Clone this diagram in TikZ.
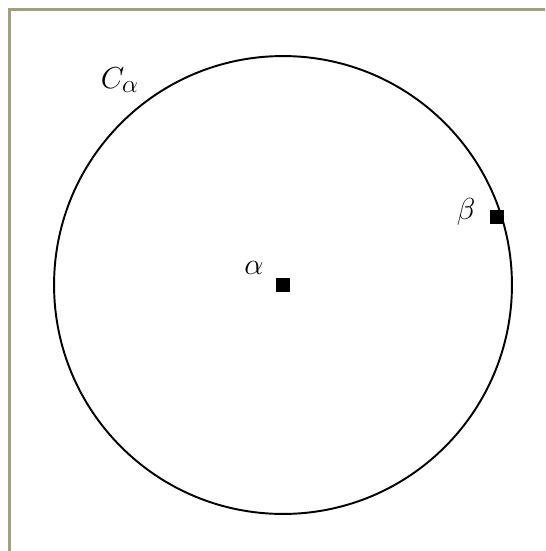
\documentclass[tikz,border=0pt]{standalone}
\usepackage{tikz}
\usetikzlibrary{positioning, calc}
\definecolor{framecol}{RGB}{160, 160, 128}
\definecolor{linecol}{RGB}{0, 0, 0}
\tikzset{
  pt/.style    = {fill=linecol, minimum size=0.28cm, inner sep=0pt},
  lbl/.style   = {font=\fontsize{19}{23}\selectfont, inner sep=1pt},
  orbit/.style = {draw=linecol, line width=1.1pt},
  frame/.style = {draw=framecol, line width=1.8pt},
}
\begin{document}
\begin{tikzpicture}[x=0.02cm, y=-0.02cm]
  \useasboundingbox (0,0) rectangle (545,551);

  %% ---------------- the frame ----------------
  \coordinate (fl) at (9.5,551);
  \coordinate (fc) at (9.5,9.5);
  \coordinate (fr) at (545,9.5);
  \draw[frame] (fl) -- (fc) -- (fr);

  %% ---------------- the circle ----------------
  \coordinate (ctr) at (283,285);
  \draw[orbit] (ctr) circle (4.58cm);

  %% ---------------- the two points ----------------
  \node[pt] (a) at (283,285) {};
  \node[pt] (b) at (497,217) {};

  \node[lbl] (alab) at (254,268) {$\alpha$};
  \node[lbl] (blab) at (466,212) {$\beta$};
  \node[lbl] (clab) at (120,80)  {$C_\alpha$};
\end{tikzpicture}
\end{document}
